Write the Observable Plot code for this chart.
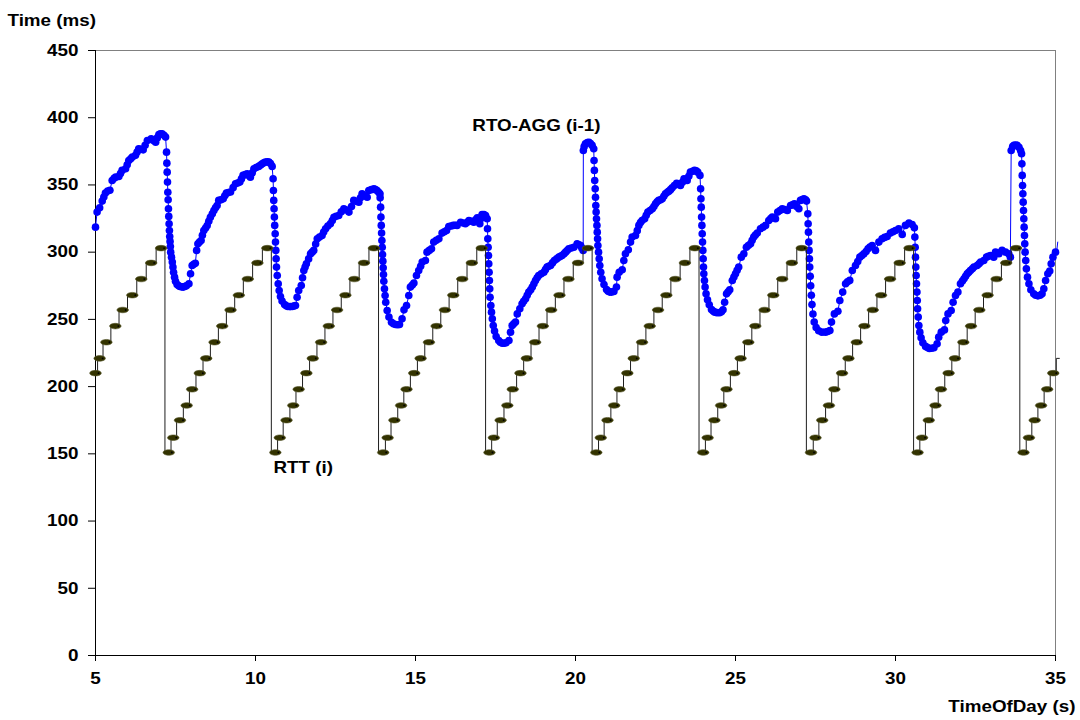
<!DOCTYPE html>
<html>
<head>
<meta charset="utf-8">
<script src="https://cdn.jsdelivr.net/npm/d3@7"></script>
<script src="https://cdn.jsdelivr.net/npm/@observablehq/plot@0.6"></script>
<style>
  body { margin: 0; background: #ffffff; }
  #chart { width: 1080px; height: 720px; }
</style>
</head>
<body>
<div id="chart"></div>
<script>
// ---- tick labels ----
const xTicks = [5, 10, 15, 20, 25, 30, 35];
const yTicks = [0, 50, 100, 150, 200, 250, 300, 350, 400, 450];

// ---- RTT (i): [time s, ms] one point per plateau ----
const rtt = [
  [5.00,210],[5.13,221],[5.34,233],[5.62,245],[5.85,257],[6.15,268],[6.43,280],[6.74,292],[7.05,303],
  [7.29,151],[7.43,162],[7.64,175],[7.85,186],[8.02,198],[8.26,210],[8.46,221],[8.72,233],[8.96,245],[9.22,257],[9.48,268],[9.76,280],[10.06,292],[10.37,303],
  [10.62,151],[10.76,162],[10.97,175],[11.18,186],[11.35,198],[11.59,210],[11.79,221],[12.05,233],[12.29,245],[12.55,257],[12.81,268],[13.09,280],[13.39,292],[13.70,303],
  [13.99,151],[14.13,162],[14.34,175],[14.55,186],[14.72,198],[14.96,210],[15.16,221],[15.42,233],[15.66,245],[15.92,257],[16.18,268],[16.46,280],[16.76,292],[17.07,303],
  [17.31,151],[17.45,162],[17.66,175],[17.87,186],[18.04,198],[18.28,210],[18.48,221],[18.74,233],[18.98,245],[19.24,257],[19.50,268],[19.78,280],[20.08,292],[20.39,303],
  [20.65,151],[20.79,162],[21.00,175],[21.21,186],[21.38,198],[21.62,210],[21.82,221],[22.08,233],[22.32,245],[22.58,257],[22.84,268],[23.12,280],[23.42,292],[23.73,303],
  [23.99,151],[24.13,162],[24.34,175],[24.55,186],[24.72,198],[24.96,210],[25.16,221],[25.40,233],[25.62,245],[25.91,257],[26.18,268],[26.46,280],[26.76,292],[27.07,303],
  [27.36,151],[27.50,162],[27.71,175],[27.92,186],[28.09,198],[28.33,210],[28.53,221],[28.79,233],[29.03,245],[29.29,257],[29.55,268],[29.83,280],[30.13,292],[30.44,303],
  [30.69,151],[30.83,162],[31.04,175],[31.25,186],[31.42,198],[31.66,210],[31.86,221],[32.12,233],[32.36,245],[32.62,257],[32.88,268],[33.16,280],[33.46,292],[33.77,303],
  [34.00,151],[34.17,162],[34.35,175],[34.55,186],[34.74,198],[34.93,210],[35.12,221]
];

// ---- RTO-AGG (i-1): [time s, ms] ----
const rtoAgg = [
  [5.00,318.6],[5.05,329.8],[5.13,333.0],[5.21,338],[5.26,341.0],[5.31,344.0],[5.38,345.5],[5.45,346.0],[5.52,353.3],[5.58,355],[5.63,355.8],[5.73,356.3],[5.78,358.5],[5.83,360.8],[5.94,362.0],[5.99,365],[6.04,368.2],[6.10,369.5],[6.15,370.7],[6.25,372.0],[6.30,374.5],[6.35,376.9],[6.42,376.5],[6.49,376.1],[6.55,379.5],[6.62,383.1],[6.74,384.3],[6.81,383],[6.88,381.8],[6.93,385],[6.98,387.5],[7.03,388],[7.08,388.0],[7.14,387],[7.19,385.6],
  [7.22,374.4],[7.23,366.2],[7.24,359.5],[7.25,352.1],[7.26,344.6],[7.27,339.0],[7.28,332.3],[7.29,326.6],[7.30,321.1],[7.31,316.1],[7.32,311.7],[7.33,308.0],[7.34,304.2],[7.35,300.0],[7.375,296.3],[7.40,292.6],[7.42,288.9],[7.44,285.1],[7.47,281.4],[7.50,278.4],[7.55,276.0],[7.60,275],[7.64,274.5],[7.69,274.2],[7.74,274.0],[7.79,274.5],[7.84,275.0],[7.92,276.5],[7.97,283.9],[8.02,290.1],[8.07,291],[8.12,291.8],[8.16,301.3],[8.20,306.2],[8.25,307.5],[8.30,308.7],[8.34,312.5],[8.385,316.1],[8.44,318],[8.49,319.8],[8.54,323],[8.59,326.0],[8.65,328.5],[8.70,331.0],[8.75,333],[8.80,334.7],[8.85,338.5],[8.92,339],[8.99,339.7],[9.04,342],[9.09,343.9],[9.15,344.3],[9.22,344.7],[9.30,348],[9.375,350.9],[9.44,351.5],[9.51,352.1],[9.56,354.5],[9.61,357.1],[9.68,357.7],[9.74,358.3],[9.79,357],[9.84,355.8],[9.90,359],[9.95,362.0],[10.02,363],[10.10,363.8],[10.16,364.8],[10.21,365.7],[10.26,366.5],[10.31,367.0],[10.37,367.2],[10.42,367.0],[10.47,366],[10.52,363.8],
  [10.55,354.6],[10.56,345.9],[10.57,338.5],[10.58,332.3],[10.59,326.1],[10.60,319.9],[10.615,313.7],[10.625,307.5],[10.635,301.3],[10.645,295.1],[10.656,288.9],[10.68,282.7],[10.71,276.5],[10.74,271.5],[10.78,267.0],[10.83,263.6],[10.91,261.1],[10.96,260.2],[11.01,259.6],[11.08,259.5],[11.15,259.6],[11.20,260],[11.25,260.3],[11.30,266.5],[11.35,271.5],[11.43,275.2],[11.47,281],[11.51,286.4],[11.55,289],[11.59,291.3],[11.66,295],[11.72,298.8],[11.77,300],[11.82,301.3],[11.88,306],[11.93,310.0],[12.0,311.2],[12.08,312.4],[12.13,315],[12.19,317.4],[12.26,319.5],[12.34,321.1],[12.40,323.5],[12.45,326.0],[12.52,326.7],[12.60,327.3],[12.68,330],[12.76,332.3],[12.82,331.5],[12.92,329.8],[13.0,334],[13.07,338.5],[13.15,337.8],[13.23,337.2],[13.28,340.5],[13.33,343.4],[13.41,342],[13.49,340.9],[13.54,345.9],[13.62,346.5],[13.70,347.1],[13.75,346.5],[13.80,345.9],[13.85,344.5],[13.89,343.4],
  [13.895,340.4],[13.91,333.5],[13.92,326.1],[13.93,319.9],[13.94,314.2],[13.95,308.7],[13.96,303.7],[13.97,298.3],[13.98,293.3],[13.99,288.4],[14.00,283.4],[14.01,278.4],[14.03,272.7],[14.05,267.8],[14.07,262.8],[14.115,256.6],[14.17,251.7],[14.25,247.9],[14.31,246.8],[14.375,246.2],[14.44,246],[14.50,246.2],[14.58,250.4],[14.64,257.1],[14.72,260.3],[14.79,267.8],[14.84,274.0],[14.90,275.5],[14.95,277.0],[15.03,282.7],[15.10,286.4],[15.16,289.5],[15.21,292.6],[15.31,293.8],[15.36,300.0],[15.43,301.3],[15.50,302.5],[15.57,307.5],[15.65,308.8],[15.73,310.0],[15.83,314.2],[15.90,315.2],[15.97,316.1],[16.04,319.1],[16.11,319.5],[16.18,319.9],[16.24,320],[16.30,319.9],[16.41,322.3],[16.49,321.7],[16.56,321.1],[16.62,322.3],[16.67,323.6],[16.75,323],[16.82,322.3],[16.88,324],[16.93,325.6],[17.01,321.1],[17.05,325],[17.08,328.0],[17.14,328],[17.19,327.3],[17.24,324.8],
  [17.25,317.4],[17.26,309.9],[17.27,303.7],[17.28,297.5],[17.29,291.3],[17.30,285.1],[17.31,278.9],[17.32,272.7],[17.33,266.5],[17.355,260.3],[17.375,255.4],[17.40,250.4],[17.43,245.5],[17.47,241.3],[17.52,237.3],[17.60,234.3],[17.65,233],[17.71,232.3],[17.77,232.2],[17.83,232.6],[17.92,234.3],[17.97,240.5],[18.02,245.5],[18.07,246.8],[18.125,248.0],[18.18,254.1],[18.26,257.9],[18.33,261.6],[18.38,263.5],[18.44,265.3],[18.49,268],[18.54,270.3],[18.60,272],[18.65,274.0],[18.70,276.5],[18.75,278.9],[18.80,281],[18.85,282.7],[18.93,284],[19.01,285.1],[19.06,287],[19.11,288.9],[19.16,289.5],[19.22,290.1],[19.28,292],[19.34,293.8],[19.41,295],[19.48,296.3],[19.53,297],[19.58,297.5],[19.64,298.8],[19.69,300.0],[19.74,301.2],[19.79,302.5],[19.87,303.1],[19.95,303.7],[20.05,306.2],[20.11,305.5],[20.16,305.0],[20.20,303],[20.24,301.3],
  [20.245,375.6],[20.27,378.5],[20.31,380.6],[20.37,381.5],[20.42,381.8],[20.47,380.8],[20.52,379.4],[20.57,376.9],
  [20.58,368.2],[20.59,360.8],[20.60,353.3],[20.615,347.1],[20.625,340.9],[20.635,334.7],[20.645,329.8],[20.656,324.8],[20.67,319.9],[20.68,314.9],[20.69,309.9],[20.70,305.0],[20.72,300.0],[20.74,295.1],[20.76,290.1],[20.79,285.1],[20.83,280.2],[20.89,276.0],[20.97,272.2],[21.02,271],[21.07,270.3],[21.13,270.3],[21.20,270.8],[21.28,274.0],[21.30,281.4],[21.365,285.1],[21.46,286.9],[21.51,293.8],[21.56,298.8],[21.65,301.8],[21.72,307.5],[21.77,311.2],[21.875,312.4],[21.93,316],[21.98,319.9],[22.03,322],[22.08,323.6],[22.16,324.8],[22.21,327.5],[22.26,329.8],[22.33,331],[22.40,332.3],[22.45,334],[22.50,336.0],[22.55,337.5],[22.60,338.5],[22.66,339],[22.71,339.7],[22.76,341.5],[22.81,343.4],[22.87,344.5],[22.92,345.4],[22.97,346.5],[23.02,347.9],[23.09,349.5],[23.16,351.3],[23.22,350.5],[23.28,349.6],[23.34,352],[23.39,354.6],[23.44,354],[23.49,353.3],[23.54,356.5],[23.59,359.5],[23.66,360.2],[23.72,360.8],[23.77,360.5],[23.82,359.5],[23.89,357.1],
  [23.91,347.1],[23.92,339.7],[23.93,333.5],[23.94,326.1],[23.95,319.9],[23.96,313.7],[23.97,307.5],[23.98,301.3],[23.99,295.1],[24.00,288.9],[24.01,283.9],[24.03,278.9],[24.05,274.0],[24.08,269.0],[24.125,264.6],[24.18,260.8],[24.25,257.4],[24.30,256.2],[24.35,255.4],[24.42,255],[24.50,254.9],[24.56,255.6],[24.61,257.1],[24.66,262.8],[24.72,269.0],[24.77,270.5],[24.82,272.0],[24.90,278.9],[24.95,281.5],[25.00,283.9],[25.05,286.5],[25.10,288.9],[25.18,296.3],[25.26,298.8],[25.34,303.7],[25.40,305],[25.47,306.2],[25.52,308.8],[25.57,311.2],[25.62,312.7],[25.68,314.2],[25.78,317.4],[25.86,318.6],[25.94,319.9],[26.04,323.6],[26.10,325],[26.15,326.1],[26.25,324.8],[26.32,329.8],[26.39,331],[26.46,332.3],[26.54,331.7],[26.62,331.0],[26.72,334.7],[26.78,335.3],[26.84,336.0],[26.91,334],[26.98,332.3],[27.03,338.5],[27.09,339.1],[27.14,339.7],[27.19,339],[27.22,338.0],
  [27.26,328.5],[27.27,321.1],[27.28,314.9],[27.29,307.5],[27.30,301.3],[27.31,295.1],[27.32,288.9],[27.335,282],[27.35,275],[27.37,268],[27.39,261],[27.42,254],[27.46,248],[27.52,244],[27.60,241.5],[27.70,240.5],[27.81,240.5],[27.88,241],[27.95,241.7],[28.00,248.0],[28.09,254.1],[28.20,256.1],[28.26,264.1],[28.35,270.3],[28.44,276.5],[28.50,278],[28.57,279.0],[28.65,286.4],[28.75,290.1],[28.82,293],[28.885,296.3],[28.95,297.5],[29.01,298.8],[29.08,300.5],[29.14,302.5],[29.20,303.8],[29.27,305.0],[29.375,301.3],[29.48,307.5],[29.58,310.0],[29.66,311],[29.74,311.7],[29.84,314.2],[29.92,315.2],[30.00,316.1],[30.10,317.4],[30.21,313.2],[30.31,319.9],[30.42,321.6],[30.52,320.6],[30.59,318.1],
  [30.605,311.2],[30.615,303.7],[30.625,296.3],[30.635,288.9],[30.645,282.7],[30.656,276.5],[30.67,270.3],[30.68,264.1],[30.69,257.9],[30.71,251.7],[30.73,245.5],[30.76,240.5],[30.80,236.3],[30.855,232.6],[30.94,229.9],[31.00,229],[31.06,228.4],[31.13,228.5],[31.20,228.9],[31.30,231.8],[31.35,236.8],[31.43,240.5],[31.53,242.2],[31.57,249.2],[31.64,254.1],[31.74,256.6],[31.80,262.8],[31.875,267.8],[31.95,270.3],[32.03,276.5],[32.09,278.5],[32.14,280.2],[32.19,282],[32.24,283.9],[32.29,285],[32.34,286.4],[32.40,287.6],[32.45,288.9],[32.55,290.1],[32.61,291.3],[32.66,292.6],[32.76,293.8],[32.845,296.3],[32.90,297],[32.97,297.5],[33.07,296.3],[33.125,300.0],[33.18,299.5],[33.23,298.8],[33.33,301.3],[33.44,300.0],[33.54,298.8],[33.59,296.3],
  [33.615,375.6],[33.66,378.5],[33.70,379.4],[33.75,379.6],[33.80,379.4],[33.86,378],[33.91,375.6],[33.94,373.2],
  [33.95,365.7],[33.96,357.1],[33.97,349.6],[33.98,343.4],[33.99,337.2],[34.00,331.0],[34.01,324.8],[34.02,318.6],[34.03,312.4],[34.04,306.2],[34.05,300.0],[34.07,293.8],[34.09,287.6],[34.125,281.4],[34.17,276.5],[34.23,272.0],[34.32,269.0],[34.38,268],[34.45,267.5],[34.52,268],[34.58,269.0],[34.635,272.7],[34.69,278.9],[34.76,283.9],[34.82,285.9],[34.865,291.3],[34.92,296.3],[35.00,300.0],[35.04,301.3],[35.07,307.5]
];

// ---- in-chart annotations ----
const rtoLabel = [{t: 18.78, v: 394, label: "RTO-AGG (i-1)"}];
const rttLabel = [{t: 10.56, v: 140, label: "RTT (i)"}];

// ellipse marker used for the RTT series
const ovalSymbol = {
  draw(ctx) {
    const a = 5.8, b = 2.8, k = 0.5523;
    ctx.moveTo(a, 0);
    ctx.bezierCurveTo(a, b * k, a * k, b, 0, b);
    ctx.bezierCurveTo(-a * k, b, -a, b * k, -a, 0);
    ctx.bezierCurveTo(-a, -b * k, -a * k, -b, 0, -b);
    ctx.bezierCurveTo(a * k, -b, a, -b * k, a, 0);
    ctx.closePath();
  }
};

const font = "'Liberation Sans', Arial, Helvetica, sans-serif";
const txt = {fontSize: 16.5, fontWeight: "bold", fill: "#000"};

const chart = Plot.plot({
  width: 1080,
  height: 720,
  marginLeft: 95,
  marginRight: 25,
  marginTop: 50,
  marginBottom: 65,
  style: {fontFamily: font, fontSize: "16.5px", fontWeight: "bold", color: "#000", background: "#fff"},
  x: {domain: [5, 35]},
  y: {domain: [0, 450]},
  marks: [
    Plot.ruleY([450], {stroke: "#808080", strokeWidth: 1}),
    Plot.ruleX([35], {stroke: "#808080", strokeWidth: 1}),
    Plot.axisX({ticks: xTicks, tickSize: 6, tickPadding: 11, label: null, tickFormat: d => String(d)}),
    Plot.axisY({ticks: yTicks, tickSize: 7, tickPadding: 10, label: null, tickFormat: d => String(d)}),
    Plot.ruleX([5], {stroke: "#000", strokeWidth: 1}),
    Plot.ruleY([0], {stroke: "#000", strokeWidth: 1}),
    // RTO-AGG
    Plot.line(rtoAgg, {x: d => d[0], y: d => d[1], stroke: "#0000ff", strokeWidth: 1}),
    Plot.dot(rtoAgg.filter(d => d[0] <= 35.02), {x: d => d[0], y: d => d[1], r: 3.8, fill: "#0000ff", stroke: "none"}),
    // RTT
    Plot.line(rtt, {x: d => d[0], y: d => d[1], curve: "step", stroke: "#1e1e1e", strokeWidth: 1}),
    Plot.dot(rtt.filter(d => d[0] <= 35), {x: d => d[0], y: d => d[1], r: 4, symbol: ovalSymbol, fill: "#333300", stroke: "#5a5a30", strokeWidth: 0.6}),
    Plot.dot(rtt.filter(d => d[0] <= 35), {x: d => d[0], y: d => d[1], dx: 3, r: 0.9, fill: "#000", stroke: "none"}),
    // annotations
    Plot.text(rtoLabel, {x: "t", y: "v", text: "label", textAnchor: "middle", ...txt}),
    Plot.text(rttLabel, {x: "t", y: "v", text: "label", textAnchor: "start", ...txt}),
    Plot.text(["Time (ms)"], {frameAnchor: "top-left", dx: -88, dy: -30, textAnchor: "start", lineAnchor: "middle", ...txt}),
    Plot.text(["TimeOfDay (s)"], {frameAnchor: "bottom-right", dx: 20, dy: 51, textAnchor: "end", lineAnchor: "middle", ...txt})
  ]
});

document.getElementById("chart").appendChild(chart);

// widen glyphs horizontally to match the reference's stretched lettering
const stretch = 1.14;
chart.querySelectorAll("text").forEach(t => {
  const w = t.getComputedTextLength();
  if (w > 0) {
    t.setAttribute("textLength", (w * stretch).toFixed(1));
    t.setAttribute("lengthAdjust", "spacingAndGlyphs");
  }
});
</script>
</body>
</html>
